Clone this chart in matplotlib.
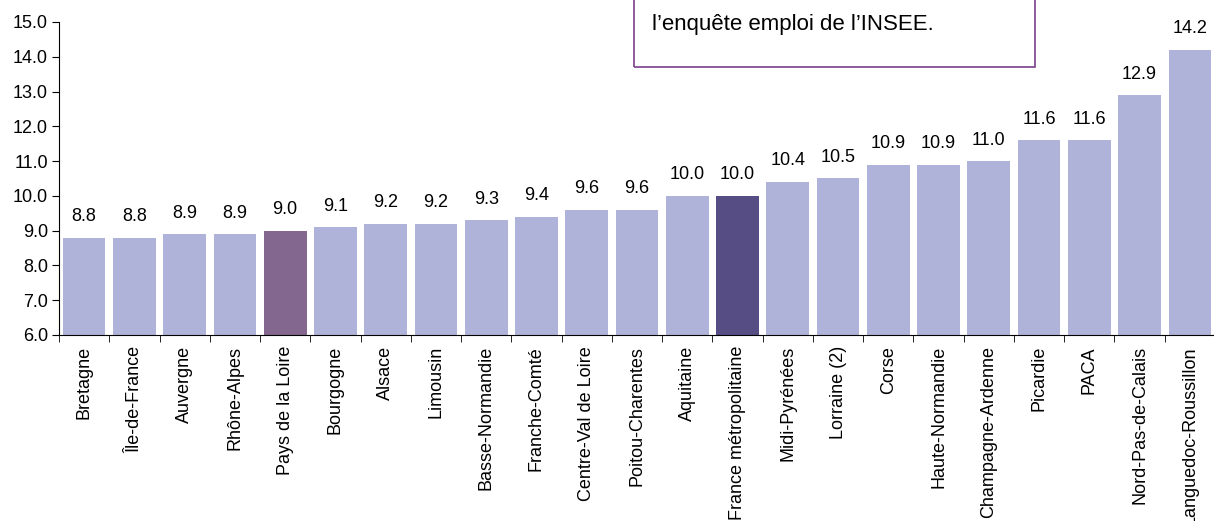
import numpy as np
import matplotlib
matplotlib.use('Agg')
import matplotlib.pyplot as plt

plt.rcParams['font.family'] = ['Liberation Sans', 'DejaVu Sans']

regions = ["Bretagne", "Île-de-France", "Auvergne", "Rhône-Alpes", "Pays de la Loire",
           "Bourgogne", "Alsace", "Limousin", "Basse-Normandie", "Franche-Comté",
           "Centre-Val de Loire", "Poitou-Charentes", "Aquitaine", "France métropolitaine",
           "Midi-Pyrénées", "Lorraine (2)", "Corse", "Haute-Normandie", "Champagne-Ardenne",
           "Picardie", "PACA", "Nord-Pas-de-Calais", "Languedoc-Roussillon"]
rates = [8.8, 8.8, 8.9, 8.9, 9.0, 9.1, 9.2, 9.2, 9.3, 9.4, 9.6, 9.6, 10.0, 10.0,
         10.4, 10.5, 10.9, 10.9, 11.0, 11.6, 11.6, 12.9, 14.2]

base_col = "#afb3da"
highlight = {"Pays de la Loire": "#84678f", "France métropolitaine": "#574d85"}
colors = [highlight.get(r, base_col) for r in regions]

fig = plt.figure(figsize=(12.14, 5.21), dpi=100)
ax = fig.add_axes([59/1214, 1-335/521, 1156/1214, 313/521])

x = np.arange(len(regions))
ymin = 6.0
ax.bar(x, np.array(rates) - ymin, bottom=ymin, width=0.85, color=colors)

for xi, v in zip(x, rates):
    ax.annotate(f"{v:.1f}", (xi, v), xytext=(0, 9), textcoords="offset points",
                ha="center", va="bottom", fontsize=13)

ax.set_xlim(-0.5, len(regions) - 0.5)
ax.set_ylim(6, 15)
ax.set_yticks(np.arange(6, 15.1, 1))
ax.set_yticklabels([f"{t:.1f}" for t in np.arange(6, 15.1, 1)], fontsize=13)

ax.set_xticks(x)
ax.set_xticklabels(regions, rotation=90, fontsize=13, va="top")
ax.tick_params(axis="x", length=0, pad=8)
ax.set_xticks(np.arange(-0.5, len(regions), 1), minor=True)
ax.tick_params(axis="x", which="minor", length=5, direction="out")
ax.tick_params(axis="y", length=5, direction="out", pad=3)

for s in ["top", "right"]:
    ax.spines[s].set_visible(False)

# source box, mostly above the figure edge
fig.text(652/1214, 1-30/521, "l\u2019enquête emploi de l\u2019INSEE.",
         fontsize=16, ha="left", va="baseline")
box = plt.Rectangle((634/1214, 1-67/521), 401/1214, 0.5, transform=fig.transFigure,
                    facecolor="none", edgecolor="#7b3f8e", linewidth=1.2)
fig.add_artist(box)

plt.savefig("out.png", dpi=100)
